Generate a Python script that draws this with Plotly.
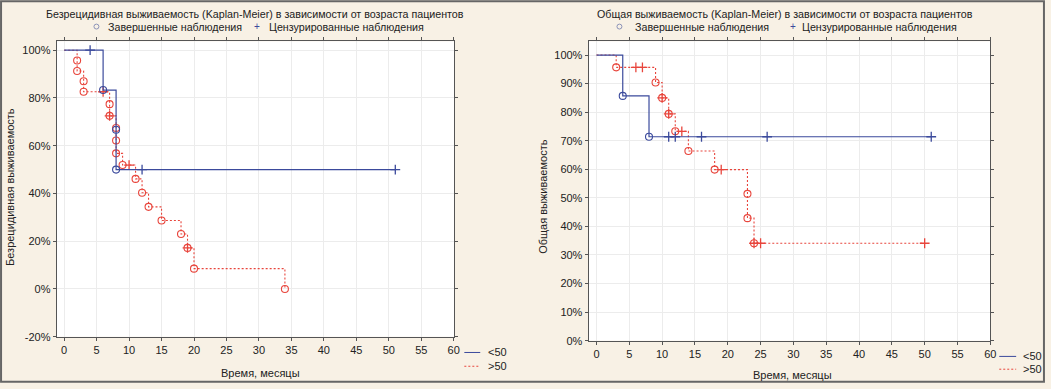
import plotly.graph_objects as go

W, H = 1051, 389

# ---------------- Data ----------------
# Left: relapse-free survival (%)
dfs_lt50_step_t = [0, 6, 8, 51]
dfs_lt50_step_s = [100, 83.3, 50, 50]
dfs_lt50_evt_t = [6, 8, 8]
dfs_lt50_evt_s = [83.3, 66.7, 50]
dfs_lt50_cens_t = [4, 12, 51]
dfs_lt50_cens_s = [100, 50, 50]

dfs_gt50_step_t = [0, 2, 3, 7, 8, 9, 11, 12, 13, 15, 18, 19, 20, 34]
dfs_gt50_step_s = [100, 91.3, 82.6, 72.5, 56.8, 51.9, 46.1, 40.3, 34.4, 28.7, 23.0, 17.2, 8.5, 0]
dfs_gt50_evt_t = [2, 2, 3, 3, 7, 7, 8, 8, 8, 9, 11, 12, 13, 15, 18, 19, 20, 34]
dfs_gt50_evt_s = [95.7, 91.3, 87.0, 82.6, 77.4, 72.5, 67.4, 62.2, 56.8, 51.9, 46.1, 40.3,
                  34.4, 28.7, 23.0, 17.2, 8.5, 0]
dfs_gt50_cens_t = [6, 7, 10, 19]
dfs_gt50_cens_s = [82.6, 72.5, 51.9, 17.2]

# Right: overall survival (%)
os_lt50_step_t = [0, 4, 8, 51]
os_lt50_step_s = [100, 85.7, 71.4, 71.4]
os_lt50_evt_t = [4, 8]
os_lt50_evt_s = [85.7, 71.4]
os_lt50_cens_t = [11, 12, 16, 26, 51]
os_lt50_cens_s = [71.4, 71.4, 71.4, 71.4, 71.4]

os_gt50_step_t = [0, 3, 9, 10, 11, 12, 14, 18, 23, 24, 50]
os_gt50_step_s = [100, 95.7, 90.4, 85.0, 79.4, 73.3, 66.4, 59.9, 42.9, 34.1, 34.1]
os_gt50_evt_t = [3, 9, 10, 11, 12, 14, 18, 23, 23, 24]
os_gt50_evt_s = [95.7, 90.4, 85.0, 79.4, 73.3, 66.4, 59.9, 51.4, 42.9, 34.1]
os_gt50_cens_t = [6, 7, 10, 11, 13, 19, 24, 25, 50]
os_gt50_cens_s = [95.7, 95.7, 85.0, 79.4, 73.3, 59.9, 34.1, 34.1, 34.1]

x_ticks = [0, 5, 10, 15, 20, 25, 30, 35, 40, 45, 50, 55, 60]
dfs_y_ticks = [-20, 0, 20, 40, 60, 80, 100]
os_y_ticks = [0, 10, 20, 30, 40, 50, 60, 70, 80, 90, 100]

title_left = "Безрецидивная выживаемость (Kaplan-Meier) в зависимости от возраста пациентов"
title_right = "Общая выживаемость (Kaplan-Meier) в зависимости от возраста пациентов"
ylabel_left = "Безрецидивная выживаемость"
ylabel_right = "Общая выживаемость"
xlabel = "Время, месяцы"
label_events = "Завершенные наблюдения"
label_censored = "Цензурированные наблюдения"
group_names = ["<50", ">50"]

# ---------------- Styles ----------------
BLUE = "#3b4a9c"
RED = "#e8453c"
BG = "#f8f1e5"
FONT = "Liberation Sans, Arial, sans-serif"
DOT = "2px,2px"

def px(x):
    return x / W

def py(y):
    return (H - y) / H

fig = go.Figure()

def add_group(xa, ya, st, ss, et, es, ct, cs, color, dash, lw):
    fig.add_trace(go.Scatter(x=st, y=ss, mode="lines", line=dict(color=color, width=lw, dash=dash, shape="hv"),
                             xaxis=xa, yaxis=ya, showlegend=False, hoverinfo="skip"))
    fig.add_trace(go.Scatter(x=et, y=es, mode="markers",
                             marker=dict(symbol="circle-open", size=7, color=color, line=dict(width=1.1, color=color)),
                             xaxis=xa, yaxis=ya, showlegend=False))
    fig.add_trace(go.Scatter(x=ct, y=cs, mode="markers",
                             marker=dict(symbol="cross-thin", size=7, color=color, line=dict(width=1.3, color=color)),
                             xaxis=xa, yaxis=ya, showlegend=False))

add_group("x", "y", dfs_gt50_step_t, dfs_gt50_step_s, dfs_gt50_evt_t, dfs_gt50_evt_s,
          dfs_gt50_cens_t, dfs_gt50_cens_s, RED, DOT, 1.1)
add_group("x", "y", dfs_lt50_step_t, dfs_lt50_step_s, dfs_lt50_evt_t, dfs_lt50_evt_s,
          dfs_lt50_cens_t, dfs_lt50_cens_s, BLUE, "solid", 1.2)
add_group("x2", "y2", os_gt50_step_t, os_gt50_step_s, os_gt50_evt_t, os_gt50_evt_s,
          os_gt50_cens_t, os_gt50_cens_s, RED, DOT, 1.1)
add_group("x2", "y2", os_lt50_step_t, os_lt50_step_s, os_lt50_evt_t, os_lt50_evt_s,
          os_lt50_cens_t, os_lt50_cens_s, BLUE, "solid", 1.2)

axis_common = dict(showline=True, linecolor="#555", linewidth=1, mirror="ticks", ticks="outside",
                   ticklen=3, tickcolor="#555", showgrid=True, gridcolor="#ececec", gridwidth=1,
                   zeroline=False, tickfont=dict(family=FONT, size=11, color="#222"), fixedrange=True)

fig.update_layout(
    width=W, height=H,
    margin=dict(l=0, r=0, t=0, b=0),
    paper_bgcolor=BG, plot_bgcolor="white",
    font=dict(family=FONT, size=11, color="#222"),
    xaxis=dict(domain=[px(57), px(457)], range=[-1.15, 60.1], tickvals=x_ticks, anchor="y", **axis_common),
    yaxis=dict(domain=[py(342), py(42)], range=[-20, 103.7], tickvals=dfs_y_ticks,
               ticktext=[f"{v}%" for v in dfs_y_ticks], anchor="x", **axis_common),
    xaxis2=dict(domain=[px(592), px(996)], range=[-1.2, 60], tickvals=x_ticks, anchor="y2", **axis_common),
    yaxis2=dict(domain=[py(346), py(42)], range=[0, 104.8], tickvals=os_y_ticks,
                ticktext=[f"{v}%" for v in os_y_ticks], anchor="x2", **axis_common),
)

ann = []
def text(x, y, s, size=11, angle=0, xanchor="center", color="#222"):
    ann.append(dict(x=px(x), y=py(y), xref="paper", yref="paper", text=s, showarrow=False,
                    font=dict(family=FONT, size=size, color=color), textangle=angle,
                    xanchor=xanchor, yanchor="middle"))

shapes = []

def header(circle_x, ev_x, plus_x, cens_x, y):
    shapes.append(dict(type="circle", xref="paper", yref="paper",
                       x0=px(circle_x - 2.5), x1=px(circle_x + 2.5), y0=py(y + 2.5), y1=py(y - 2.5),
                       line=dict(color="#8c93b8", width=1), fillcolor="rgba(0,0,0,0)"))
    text(ev_x, y, label_events, size=10.7, xanchor="left")
    text(plus_x, y, "+", size=10, color="#3b4a9c")
    text(cens_x, y, label_censored, size=10.7, xanchor="left")

text(256, 14, title_left, size=10.7)
header(97, 107, 258, 269, 27)
text(790, 14, title_right, size=10.7)
header(623, 637, 798, 805, 27)
text(10, 190, ylabel_left, angle=-90)
text(546, 200, ylabel_right, angle=-90)
text(262, 379, xlabel)
text(797, 381, xlabel)

def legline(x0, x1, y, color, dash):
    shapes.append(dict(type="line", xref="paper", yref="paper", x0=px(x0), x1=px(x1), y0=py(y), y1=py(y),
                       line=dict(color=color, width=1, dash=dash)))

legline(467, 483, 358, BLUE, "solid")
legline(467, 483, 372, RED, DOT)
text(489, 358, group_names[0], xanchor="left")
text(489, 372, group_names[1], xanchor="left")
legline(1005, 1022, 362, BLUE, "solid")
legline(1005, 1022, 375, RED, DOT)
text(1027, 362, group_names[0], xanchor="left")
text(1027, 375, group_names[1], xanchor="left")

# outer frame
shapes.append(dict(type="rect", xref="paper", yref="paper", x0=0.001, x1=0.999, y0=0.003, y1=0.997,
                   line=dict(color="#666", width=2), fillcolor="rgba(0,0,0,0)", layer="below"))

fig.update_layout(annotations=ann, shapes=shapes)
fig.write_html("out.html", config={"displayModeBar": False},
               post_script="document.body.style.margin='0';document.body.style.overflow='hidden';")
